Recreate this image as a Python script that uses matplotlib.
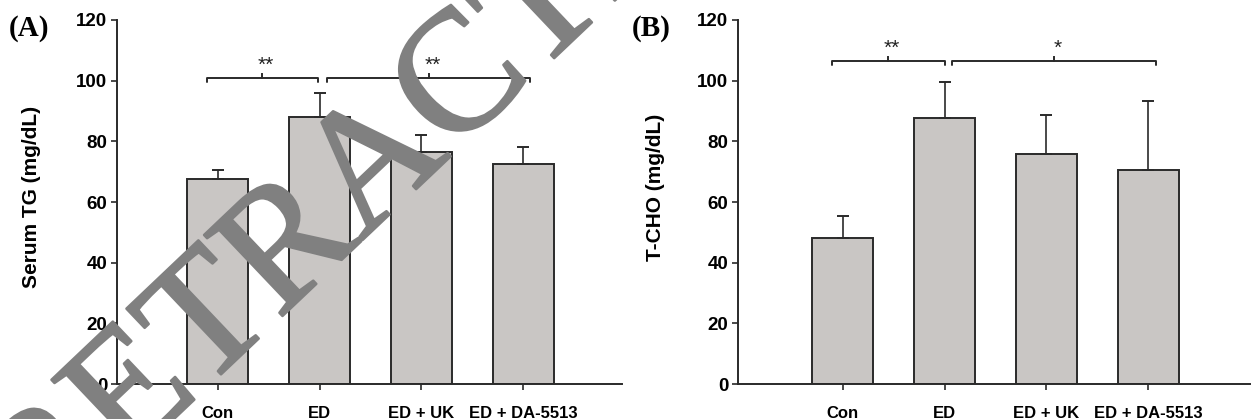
import matplotlib
matplotlib.use("Agg")
import matplotlib.pyplot as plt
import matplotlib.patheffects as pe

# --- data ---
groups = ["Con", "ED", "ED + UK", "ED + DA-5513"]

tg_mean = [67.5, 88.0, 76.5, 72.5]
tg_err = [3.0, 8.0, 5.5, 5.6]

tcho_mean = [48.0, 87.8, 75.9, 70.5]
tcho_err = [7.4, 11.8, 12.8, 22.9]

yticks = [0, 20, 40, 60, 80, 100, 120]

# significance brackets: (x start, x end, y level, label)
tg_sig = [(-0.11, 0.98, 101.0, "**"), (1.07, 3.07, 101.0, "**")]
tcho_sig = [(-0.11, 1.00, 106.6, "**"), (1.07, 3.08, 106.6, "*")]

BAR_FILL = "#c9c6c4"
EDGE = "#2a2a2a"
SANS = "Liberation Sans"
SERIF = "Liberation Serif"

W, H = 1252, 419
fig = plt.figure(figsize=(W / 100, H / 100), dpi=100)


def panel(rect, xlim, means, errs, sig, ylabel, letter, label_xy, letter_x):
    ax = fig.add_axes(rect)
    x = list(range(len(groups)))
    ax.bar(x, means, width=0.6, color=BAR_FILL, edgecolor=EDGE, linewidth=1.4, zorder=2)
    ax.errorbar(x, means, yerr=[[0] * len(errs), errs], fmt="none",
                ecolor=EDGE, elinewidth=1.2, capsize=4, capthick=1.4, zorder=3)

    for x0, x1, y, txt in sig:
        xm = (x0 + x1) / 2
        ax.plot([x0, x0, x1, x1], [y - 1.5, y, y, y - 1.5], color=EDGE, lw=1.4,
                solid_capstyle="round", zorder=4, clip_on=False)
        ax.plot([xm, xm], [y, y + 1.2], color=EDGE, lw=1.4, zorder=4, clip_on=False)
        ax.text(xm + 0.04, y + 0.8, txt, ha="center", va="bottom", fontsize=15,
                family=SANS, color="#222222")

    ax.set_xlim(*xlim)
    ax.set_ylim(0, 120)
    ax.set_yticks(yticks)
    ax.set_xticks(x)
    ax.set_xticklabels(groups)
    for s in ("top", "right"):
        ax.spines[s].set_visible(False)
    for s in ("left", "bottom"):
        ax.spines[s].set_linewidth(1.4)
        ax.spines[s].set_color(EDGE)
    ax.tick_params(axis="y", length=4, width=1.2, pad=3, colors=EDGE, labelcolor="black")
    ax.tick_params(axis="x", length=4, width=1.2, pad=12, colors=EDGE, labelcolor="black")
    for lab in ax.get_yticklabels():
        lab.set_fontsize(13.5)
        lab.set_fontweight("bold")
        lab.set_family(SANS)
    for lab in ax.get_xticklabels():
        lab.set_fontsize(12)
        lab.set_fontweight("bold")
        lab.set_family(SANS)
    ax.set_ylabel(ylabel, fontsize=15, fontweight="bold", family=SANS)
    ax.yaxis.set_label_coords(*label_xy)
    fig.text(letter_x, 1 - 28 / H, letter, fontsize=21, fontweight="bold",
             family=SERIF, ha="left", va="center")
    return ax


axA = panel([117 / W, 35 / H, 505 / W, 364 / H], (-0.99, 3.97), tg_mean, tg_err, tg_sig,
            "Serum TG (mg/dL)", "(A)", (-0.15, 0.515), 9 / W)
axB = panel([738 / W, 35 / H, 512 / W, 364 / H], (-1.03, 4.0), tcho_mean, tcho_err, tcho_sig,
            "T-CHO (mg/dL)", "(B)", (-0.143, 0.54), 632 / W)

# retraction watermark (anchored on its baseline), strokes thickened slightly
fig.text(410 / W, 1 - 195 / H, "RETRACTED", fontsize=124, family=SERIF,
         color="#808080", rotation=43.5, rotation_mode="anchor",
         ha="center", va="baseline", zorder=10,
         path_effects=[pe.withStroke(linewidth=1.8, foreground="#808080")])

fig.savefig("out.png", dpi=100)
